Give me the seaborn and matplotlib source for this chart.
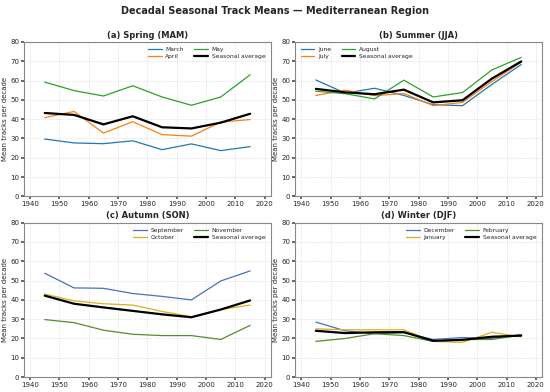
import matplotlib
matplotlib.use("Agg")
import matplotlib.pyplot as plt
import seaborn as sns
import pandas as pd

decades = [1945, 1955, 1965, 1975, 1985, 1995, 2005, 2015]

march = [29.7, 27.7, 27.3, 28.8, 24.2, 27.2, 23.7, 25.8]
april = [40.8, 44.0, 32.8, 38.7, 32.0, 31.2, 38.5, 39.8]
may = [59.2, 54.8, 52.0, 57.3, 51.5, 47.2, 51.5, 63.0]
spring_avg = [43.2, 42.2, 37.3, 41.5, 35.8, 35.2, 38.2, 42.8]

june = [60.3, 53.5, 56.0, 52.3, 47.5, 47.0, 58.0, 68.3]
july = [52.3, 55.0, 52.2, 53.3, 47.0, 48.7, 59.5, 69.5]
august = [54.5, 53.2, 50.5, 60.2, 51.5, 53.8, 65.5, 72.0]
summer_avg = [55.7, 53.9, 52.9, 55.3, 48.7, 49.8, 61.0, 69.9]

september = [53.8, 46.2, 46.0, 43.3, 41.8, 40.0, 49.8, 55.0]
october = [43.0, 39.5, 38.0, 37.3, 34.0, 31.3, 35.0, 37.3]
november = [29.8, 28.2, 24.3, 22.2, 21.5, 21.5, 19.5, 26.8]
autumn_avg = [42.2, 38.0, 36.1, 34.3, 32.5, 31.0, 35.0, 39.7]

december = [28.5, 24.0, 22.5, 23.0, 19.5, 20.5, 20.0, 22.0]
january = [25.0, 24.5, 24.5, 24.5, 18.5, 18.0, 23.2, 20.8]
february = [18.5, 20.0, 22.5, 21.5, 18.5, 19.5, 19.5, 21.8]
winter_avg = [24.0, 22.8, 23.2, 23.3, 18.8, 19.3, 20.9, 21.5]

panels = [
    ("(a) Spring (MAM)", ["March", "April", "May"], [march, april, may], spring_avg,
     ["#1f77b4", "#ff7f0e", "#2ca02c"], "upper right"),
    ("(b) Summer (JJA)", ["June", "July", "August"], [june, july, august], summer_avg,
     ["#1f77b4", "#ff7f0e", "#2ca02c"], "upper left"),
    ("(c) Autumn (SON)", ["September", "October", "November"], [september, october, november], autumn_avg,
     ["#4c6fbf", "#d9b020", "#5a8a2a"], "upper right"),
    ("(d) Winter (DJF)", ["December", "January", "February"], [december, january, february], winter_avg,
     ["#4c6fbf", "#d9b020", "#5a8a2a"], "upper right"),
]

sns.set_theme(style="whitegrid")
plt.rcParams['font.family'] = ['DejaVu Sans']

fig, axes = plt.subplots(2, 2, figsize=(5.5, 3.92), dpi=100)
fig.subplots_adjust(left=0.044, right=0.985, top=0.893, bottom=0.038, hspace=0.17, wspace=0.10)

for ax, (title, months, series, avg, colors, loc) in zip(axes.flat, panels):
    rows = []
    for m, vals in zip(months, series):
        for d, v in zip(decades, vals):
            rows.append({"decade": d, "value": v, "series": m})
    df = pd.DataFrame(rows)
    sns.lineplot(data=df, x="decade", y="value", hue="series", palette=colors,
                 ax=ax, linewidth=0.9, legend=False)
    sns.lineplot(x=decades, y=avg, ax=ax, color="black", linewidth=1.6)
    handles = [plt.Line2D([], [], color=c, lw=0.9) for c in colors]
    handles.append(plt.Line2D([], [], color="black", lw=1.6))
    labels = months + ["Seasonal average"]
    ax.legend(handles, labels, ncol=2, loc=loc, fontsize=4.3, frameon=False,
              handlelength=2.3, handletextpad=0.6, columnspacing=1.8,
              labelspacing=0.3, borderaxespad=0.5)
    ax.set_title(title, fontsize=6, fontweight="bold", pad=3)
    ax.set_xlim(1938, 2022)
    ax.set_ylim(0, 80)
    ax.set_xticks([1940, 1950, 1960, 1970, 1980, 1990, 2000, 2010, 2020])
    ax.set_yticks(range(0, 81, 10))
    ax.set_xlabel("")
    ax.set_ylabel("Mean tracks per decade", fontsize=5, labelpad=2)
    ax.tick_params(labelsize=5, pad=1.5, length=2, bottom=True, left=True, color="#555555")
    ax.grid(True, linestyle=":", linewidth=0.5, color="#cccccc")
    for s in ax.spines.values():
        s.set_color("#888888")
        s.set_linewidth(0.8)

fig.suptitle("Decadal Seasonal Track Means — Mediterranean Region", fontsize=7, fontweight="bold", y=0.985)
fig.savefig("out.png", dpi=100)
